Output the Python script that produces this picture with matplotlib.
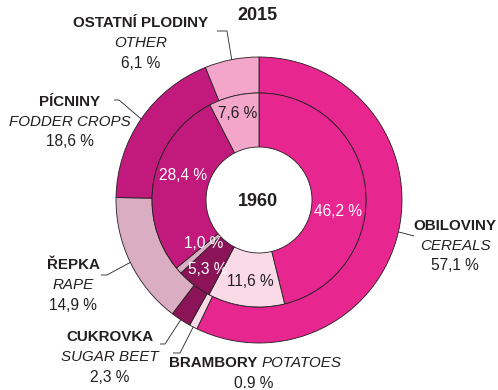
import matplotlib
matplotlib.use("Agg")
import matplotlib.pyplot as plt
import numpy as np

# Land use shares by crop group (%), outer ring 2015, inner ring 1960
crops_cz = ["OBILOVINY", "BRAMBORY", "CUKROVKA", "ŘEPKA", "PÍCNINY", "OSTATNÍ PLODINY"]
crops_en = ["CEREALS", "POTATOES", "SUGAR BEET", "RAPE", "FODDER CROPS", "OTHER"]
share_2015 = [57.1, 0.9, 2.3, 14.9, 18.6, 6.1]
share_1960 = [46.2, 11.6, 5.3, 1.0, 28.4, 7.6]
colors = ["#E8268F", "#FADAE7", "#8B1358", "#DBADC3", "#C21A7C", "#F3A5CA"]

W, H = 498, 390
DARK = "#231F20"
FONT = ["Liberation Sans", "DejaVu Sans"]
FS_BOLD = 10.9
FS_ITAL = 10.9
FS_NUM = 11.2


def fmt(v, sep=","):
    return f"{v:.1f}".replace(".", sep) + " %"


def Y(y):
    # layout positions are given from the top edge
    return H - y


fig = plt.figure(figsize=(W / 100, H / 100), dpi=100)
ax = fig.add_axes([0, 0, 1, 1])

cx, cy = 259, Y(200)
r_out, r_mid, r_in = 143, 107, 53
edge = dict(edgecolor=DARK, linewidth=0.6)

outer, _ = ax.pie(share_2015, radius=r_out, center=(cx, cy), startangle=90,
                  counterclock=False, colors=colors,
                  wedgeprops=dict(width=r_out - r_mid, **edge))
inner, _ = ax.pie(share_1960, radius=r_mid, center=(cx, cy), startangle=90,
                  counterclock=False, colors=colors,
                  wedgeprops=dict(width=r_mid - r_in, **edge))

ax.set_xlim(0, W)
ax.set_ylim(0, H)
ax.set_aspect("equal")
ax.axis("off")


def txt(x, y, s, fs, **kw):
    kw.setdefault("color", DARK)
    ax.text(x, Y(y), s, ha=kw.pop("ha", "center"), va="center",
            family=FONT, fontsize=fs, **kw)


# Year captions
txt(257, 15, "2015", 13.0, fontweight="bold")
txt(258, 201, "1960", 13.0, fontweight="bold")

# Outer labels: (centre x, first line y) for each crop
label_pos = {
    0: (455, 226),
    2: (110, 337),
    3: (73, 265),
    4: (70, 102),
    5: (141, 23),
}
for i, (lx, ly) in label_pos.items():
    txt(lx, ly, crops_cz[i], FS_BOLD, fontweight="bold")
    txt(lx, ly + 20, crops_en[i], FS_ITAL, fontstyle="italic")
    txt(lx, ly + 40, fmt(share_2015[i]), FS_NUM)

# Potatoes label sits on a single line
txt(257, 363, crops_cz[1], FS_BOLD, fontweight="bold", ha="right")
txt(262, 363, crops_en[1], FS_ITAL, fontstyle="italic", ha="left")
txt(254, 383, fmt(share_2015[1], sep="."), FS_NUM)

# Leader lines: from the outer edge at the slice middle to an elbow near the label
leader_pts = {
    0: [(414, 236)],
    1: [(180, 353), (173, 353)],
    2: [(165, 344), (160, 344)],
    3: [(107, 275), (101, 275)],
    4: [(119, 100), (114, 100)],
    5: [(227, 31), (217, 31)],
}
for i, pts in leader_pts.items():
    w = outer[i]
    mid = np.deg2rad((w.theta1 + w.theta2) / 2)
    x0 = cx + r_out * np.cos(mid)
    y0 = cy + r_out * np.sin(mid)
    xs = [x0] + [p[0] for p in pts]
    ys = [y0] + [Y(p[1]) for p in pts]
    ax.plot(xs, ys, color=DARK, linewidth=0.6, solid_capstyle="butt")

# Inner ring values
inner_pos = [
    (338, 211, "white"),
    (250, 281, DARK),
    (208, 269, "white"),
    (204, 244, "white"),
    (183, 176, "white"),
    (238, 113, DARK),
]
for v, (x, y, c) in zip(share_1960, inner_pos):
    txt(x, y, fmt(v), FS_NUM, color=c)

fig.savefig("out.png", dpi=100)
